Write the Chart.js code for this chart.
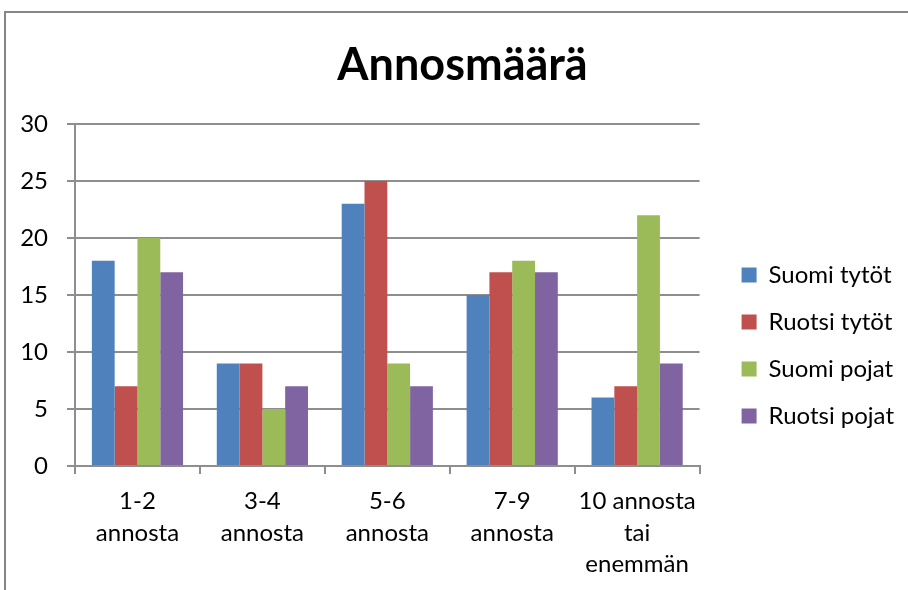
<!doctype html>
<html lang="fi">
<head>
<meta charset="utf-8">
<title>Annosmäärä</title>
<script src="https://cdn.jsdelivr.net/npm/chart.js@4.4.1/dist/chart.umd.min.js"></script>
<style>
  html, body { margin: 0; padding: 0; background: #fff; overflow: hidden; width: 908px; height: 590px; }
  #frame { position: absolute; left: 4px; top: 11px; border-left: 2px solid #868686; border-top: 2px solid #868686; }
  #chart { display: block; }
</style>
</head>
<body>
<div id="frame">
  <canvas id="chart" width="913" height="665"></canvas>
</div>
<script>
// data
var categories = [['1-2', 'annosta'], ['3-4', 'annosta'], ['5-6', 'annosta'], ['7-9', 'annosta'], ['10 annosta', 'tai', 'enemmän']];
var suomiTytot = [18, 9, 23, 15, 6];
var ruotsiTytot = [7, 9, 25, 17, 7];
var suomiPojat = [20, 5, 9, 18, 22];
var ruotsiPojat = [17, 7, 7, 17, 9];

var gridColor = '#8e8e8e';

Chart.defaults.font.family = 'Lato';
Chart.defaults.color = '#000';

// excel puts the legend a bit away from the plot and the title in the middle of the whole frame
var nudge = {
    id: 'nudge',
    afterLayout: function (chart) {
        chart.legend.left += 19;
        chart.legend.right += 19;
        chart.titleBlock.left += 17;
        chart.titleBlock.right += 17;
    }
};

var chart = new Chart(document.getElementById('chart'), {
    type: 'bar',
    data: {
        labels: categories,
        datasets: [
            { label: 'Suomi tytöt', data: suomiTytot, backgroundColor: '#4F81BD' },
            { label: 'Ruotsi tytöt', data: ruotsiTytot, backgroundColor: '#C0504D' },
            { label: 'Suomi pojat', data: suomiPojat, backgroundColor: '#9BBB59' },
            { label: 'Ruotsi pojat', data: ruotsiPojat, backgroundColor: '#8064A2' }
        ]
    },
    plugins: [nudge],
    options: {
        responsive: false,
        animation: false,
        datasets: { bar: { categoryPercentage: 0.73, barPercentage: 1 } },
        layout: { padding: { left: 0, right: 34, top: 0, bottom: 0 } },
        plugins: {
            title: {
                display: true,
                text: 'Annosmäärä',
                font: { size: 45, weight: 'bold' },
                padding: { top: 25, bottom: 32 }
            },
            legend: {
                position: 'right',
                labels: { boxWidth: 15, boxHeight: 15, padding: 23, font: { size: 24 } }
            },
            tooltip: { enabled: false }
        },
        scales: {
            x: {
                grid: { display: true, drawOnChartArea: false, drawTicks: true, tickLength: 8, color: gridColor, lineWidth: 2 },
                border: { color: gridColor, width: 2 },
                ticks: { font: { size: 24, lineHeight: 1.3 }, padding: 12, maxRotation: 0 },
                afterFit: function (scale) { scale.height = 212; }
            },
            y: {
                min: 0,
                max: 30,
                ticks: { stepSize: 5, font: { size: 24 }, padding: 19 },
                grid: { color: gridColor, lineWidth: 2, tickLength: 8 },
                border: { color: gridColor, width: 2 },
                afterFit: function (scale) { scale.width = 69; }
            }
        }
    }
});
</script>
</body>
</html>
